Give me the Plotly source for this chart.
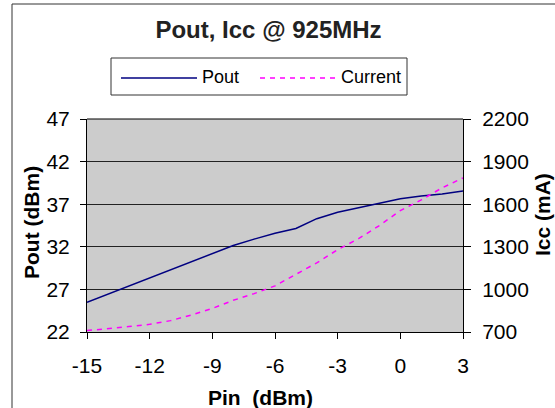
import plotly.graph_objects as go

pin = [-15, -14, -13, -12, -11, -10, -9, -8, -7, -6, -5, -4, -3, -2, -1, 0, 1, 2, 3]
pout = [25.5, 26.45, 27.4, 28.3, 29.3, 30.2, 31.2, 32.15, 32.9, 33.6, 34.15, 35.3, 36.05, 36.6, 37.15, 37.65, 37.95, 38.2, 38.55]
current = [710, 722, 738, 754, 780, 820, 866, 923, 970, 1025, 1105, 1187, 1280, 1357, 1450, 1555, 1630, 1715, 1785]

x_ticks = [-15, -12, -9, -6, -3, 0, 3]
x_tick_labels = ["-15", "-12", "-9", "-6", "-3", "0", "3"]
left_ticks = [22, 27, 32, 37, 42, 47]
right_ticks = [700, 1000, 1300, 1600, 1900, 2200]

FONT = "Liberation Sans, Arial, sans-serif"
NAVY = "#000080"
MAG = "#FF00FF"

fig = go.Figure()
fig.add_trace(go.Scatter(x=pin, y=pout, mode="lines", name="Pout",
                         line=dict(color=NAVY, width=1.5), yaxis="y"))
fig.add_trace(go.Scatter(x=pin, y=current, mode="lines", name="Current",
                         line=dict(color=MAG, width=1.5, dash="5px,5px"), yaxis="y2"))

W, H = 555, 408
L, R, T, B = 87, 463, 119, 332

fig.update_layout(
    width=W, height=H,
    margin=dict(l=L, r=W - R, t=T, b=H - B, pad=0),
    paper_bgcolor="white",
    plot_bgcolor="#CCCCCC",
    showlegend=False,
    font=dict(family=FONT, color="black"),
    title=dict(text="<b>Pout, Icc @ 925MHz</b>", x=268.5 / W, xanchor="center",
               y=1 - 30 / H, yanchor="middle", font=dict(size=24, color="#222222")),
    xaxis=dict(range=[-15, 3], tickvals=x_ticks, ticktext=x_tick_labels,
               ticks="outside", ticklen=6,
               tickcolor="black", showline=True, linecolor="black", linewidth=1,
               showgrid=False, zeroline=False, tickfont=dict(size=21),
               ticklabelstandoff=9, mirror=False),
    yaxis=dict(range=[22, 47], tickvals=left_ticks, ticks="outside", ticklen=6,
               tickcolor="black", showline=True, linecolor="black", linewidth=1,
               showgrid=True, gridcolor="#222222", gridwidth=1, zeroline=False,
               tickfont=dict(size=21), ticklabelstandoff=6),
    yaxis2=dict(range=[700, 2200], tickvals=right_ticks, overlaying="y", side="right",
                ticks="outside", ticklen=7, tickcolor="black", showline=True,
                linecolor="black", linewidth=1, showgrid=False, zeroline=False,
                tickfont=dict(size=21), ticklabelstandoff=7),
)

pw, ph = R - L, B - T
def px(x):
    return (x - L) / pw
def py(y):
    return (B - y) / ph

shapes = [
    # outer chart border
    dict(type="rect", xref="paper", yref="paper", x0=px(12), x1=px(600),
         y0=py(450), y1=py(4), line=dict(color="#333333", width=1), layer="below"),
    # legend box
    dict(type="rect", xref="paper", yref="paper", x0=px(111), x1=px(407),
         y0=py(95), y1=py(58), line=dict(color="#333333", width=1), fillcolor="white"),
    dict(type="line", xref="paper", yref="paper", x0=px(121), x1=px(197),
         y0=py(78), y1=py(78), line=dict(color=NAVY, width=1.5)),
    dict(type="line", xref="paper", yref="paper", x0=px(260), x1=px(335),
         y0=py(78), y1=py(78), line=dict(color=MAG, width=1.5, dash="5px,5px")),
    # top plot border
    dict(type="line", xref="paper", yref="paper", x0=0, x1=1, y0=1, y1=1,
         line=dict(color="black", width=1)),
]
fig.update_layout(shapes=shapes)

ann = [
    dict(text="Pout", x=px(200), y=py(77), xanchor="left", yanchor="middle",
         font=dict(size=18)),
    dict(text="Current", x=px(339), y=py(77), xanchor="left", yanchor="middle",
         font=dict(size=18)),
    dict(text="<b>Pin  (dBm)</b>", x=px(260), y=py(397), xanchor="center",
         yanchor="middle", font=dict(size=21)),
    dict(text="<b>Pout (dBm)</b>", x=px(31), y=py(223), xanchor="center",
         yanchor="middle", textangle=-90, font=dict(size=21)),
    dict(text="<b>Icc (mA)</b>", x=px(542), y=py(215), xanchor="center",
         yanchor="middle", textangle=-90, font=dict(size=21)),
]
for a in ann:
    a.update(xref="paper", yref="paper", showarrow=False)
fig.update_layout(annotations=ann)

fig.write_html("out.html", config={"displayModeBar": False},
               post_script="document.body.style.margin='0';document.body.style.padding='0';")
